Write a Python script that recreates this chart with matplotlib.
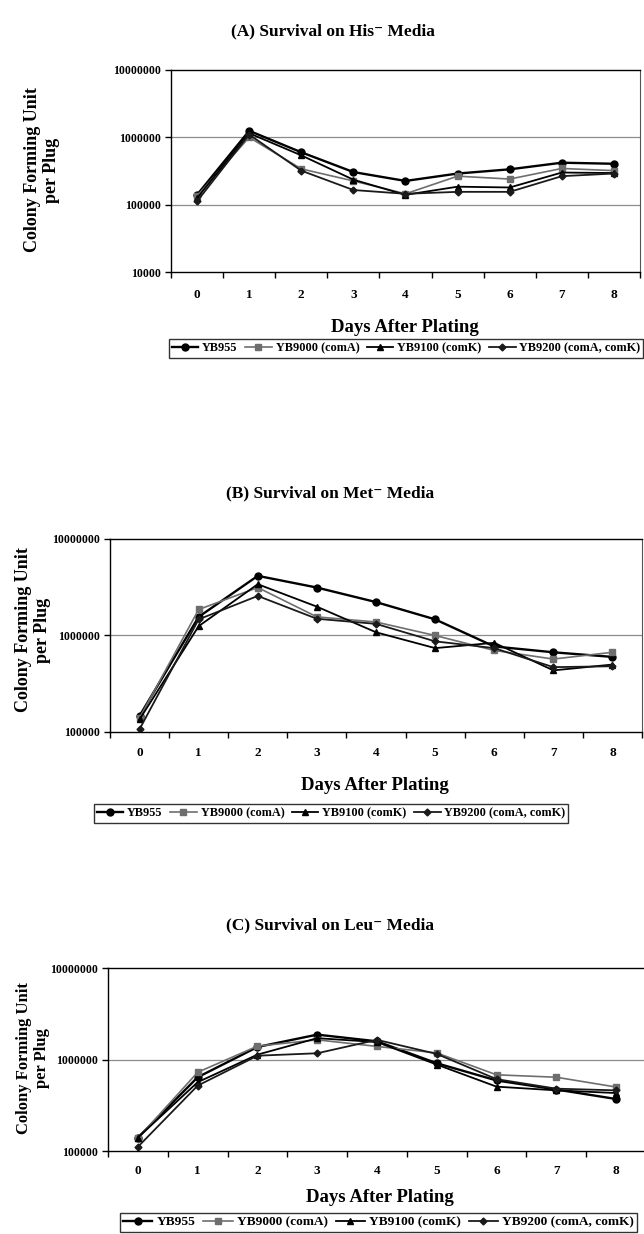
import numpy as np
import matplotlib
matplotlib.use("Agg")
import matplotlib.pyplot as plt
from matplotlib.ticker import FixedLocator, FuncFormatter

plt.rcParams['font.family'] = ['Liberation Serif', 'DejaVu Serif']
plt.rcParams['font.weight'] = 'bold'

days = list(range(9))
strains = ["YB955", "YB9000 (comA)", "YB9100 (comK)", "YB9200 (comA, comK)"]

# CFU per plug, His- media
his_yb955 = [140000, 1250000, 600000, 305000, 225000, 290000, 335000, 420000, 405000]
his_yb9000 = [135000, 1000000, 340000, 225000, 145000, 265000, 240000, 345000, 320000]
his_yb9100 = [125000, 1150000, 540000, 235000, 140000, 185000, 180000, 300000, 295000]
his_yb9200 = [112000, 1100000, 320000, 165000, 145000, 155000, 155000, 265000, 290000]

# Met- media
met_yb955 = [147000, 1560000, 4150000, 3140000, 2220000, 1470000, 770000, 670000, 600000]
met_yb9000 = [140000, 1860000, 3140000, 1560000, 1380000, 1000000, 700000, 570000, 670000]
met_yb9100 = [135000, 1250000, 3400000, 1990000, 1080000, 740000, 840000, 435000, 500000]
met_yb9200 = [107000, 1470000, 2570000, 1490000, 1320000, 870000, 740000, 470000, 480000]

# Leu- media
leu_yb955 = [140000, 640000, 1370000, 1870000, 1580000, 910000, 590000, 470000, 370000]
leu_yb9000 = [138000, 725000, 1400000, 1640000, 1390000, 1180000, 680000, 640000, 500000]
leu_yb9100 = [140000, 565000, 1130000, 1710000, 1550000, 880000, 505000, 460000, 430000]
leu_yb9200 = [111000, 518000, 1100000, 1170000, 1640000, 1150000, 610000, 480000, 460000]

styles = [
    dict(color='black', marker='o', ms=5, lw=1.7),
    dict(color='#6e6e6e', marker='s', ms=4.5, lw=1.2),
    dict(color='black', marker='^', ms=5, lw=1.3),
    dict(color='#1a1a1a', marker='D', ms=3.5, lw=1.3),
]

W, H = 644, 1234
fig = plt.figure(figsize=(W / 100, H / 100), dpi=100)


def fx(px):
    return px / W


def fy(py):
    return 1 - py / H


panels = [
    dict(title="(A) Survival on His\u207b Media", data=[his_yb955, his_yb9000, his_yb9100, his_yb9200],
         box=(171, 70, 640, 272), ylim=(1e4, 1e7), title_xy=(333, 31), ylab_xy=(42, 170), ylab_fs=13,
         xlab_xy=(405, 328), leg_xy=(406, 348.5), leg_fs=8.8, pad=12),
    dict(title="(B) Survival on Met\u207b Media", data=[met_yb955, met_yb9000, met_yb9100, met_yb9200],
         box=(110, 539, 642, 732), ylim=(1e5, 1e7), title_xy=(330, 493), ylab_xy=(33, 630), ylab_fs=13,
         xlab_xy=(375, 786), leg_xy=(331, 813.5), leg_fs=8.8, pad=11),
    dict(title="(C) Survival on Leu\u207b Media", data=[leu_yb955, leu_yb9000, leu_yb9100, leu_yb9200],
         box=(108, 968, 646, 1151), ylim=(1e5, 1e7), title_xy=(330, 925), ylab_xy=(33, 1058), ylab_fs=12,
         xlab_xy=(380, 1197), leg_xy=(378.5, 1222), leg_fs=9.6, pad=10),
]

for p in panels:
    x0, y0, x1, y1 = p['box']
    ax = fig.add_axes([fx(x0), fy(y1), fx(x1 - x0), (y1 - y0) / H])
    for vals, name, st in zip(p['data'], strains, styles):
        ax.plot(days, vals, label=name, mec=st['color'], mfc=st['color'], **st)

    ax.set_yscale('log')
    ax.set_ylim(*p['ylim'])
    ax.set_xlim(-0.5, 8.5)
    decades = [10 ** k for k in range(int(np.log10(p['ylim'][0])), int(np.log10(p['ylim'][1])) + 1)]
    ax.yaxis.set_major_locator(FixedLocator(decades))
    ax.yaxis.set_minor_locator(FixedLocator([]))
    ax.yaxis.set_major_formatter(FuncFormatter(lambda v, pos: f"{int(round(v))}"))
    for d in decades[1:-1]:
        ax.axhline(d, color='#8c8c8c', lw=0.9, zorder=0)

    ax.set_xticks(days)
    ax.set_xticks(np.arange(-0.5, 9, 1), minor=True)
    ax.tick_params(axis='x', which='major', length=0, pad=p['pad'], labelsize=9.5)
    ax.tick_params(axis='x', which='minor', length=4, direction='out', width=1)
    ax.tick_params(axis='y', which='major', length=4, direction='out', width=1, labelsize=8.5)
    for lab in ax.get_xticklabels() + ax.get_yticklabels():
        lab.set_fontweight('bold')

    for side in ['left', 'bottom', 'top']:
        ax.spines[side].set_color('black')
        ax.spines[side].set_linewidth(1.0)
    ax.spines['right'].set_color('#555555')
    ax.spines['right'].set_linewidth(0.8)

    fig.text(fx(p['title_xy'][0]), fy(p['title_xy'][1]), p['title'], ha='center', va='center',
             fontsize=12.5, fontweight='bold')
    fig.text(fx(p['ylab_xy'][0]), fy(p['ylab_xy'][1]), "Colony Forming Unit\nper Plug", rotation=90,
             ha='center', va='center', multialignment='center', fontsize=p['ylab_fs'], fontweight='bold',
             linespacing=1.1)
    fig.text(fx(p['xlab_xy'][0]), fy(p['xlab_xy'][1]), "Days After Plating", ha='center', va='center',
             fontsize=13.5, fontweight='bold')

    leg = ax.legend(loc='center', bbox_to_anchor=(fx(p['leg_xy'][0]), fy(p['leg_xy'][1])),
                    bbox_transform=fig.transFigure, ncol=4, frameon=True, fancybox=False,
                    edgecolor='black', fontsize=p['leg_fs'], handlelength=2.2, handletextpad=0.3,
                    columnspacing=0.6, borderpad=0.25, borderaxespad=0)
    leg.get_frame().set_linewidth(1.0)
    for t in leg.get_texts():
        t.set_fontweight('bold')

fig.savefig("out.png", dpi=100)
